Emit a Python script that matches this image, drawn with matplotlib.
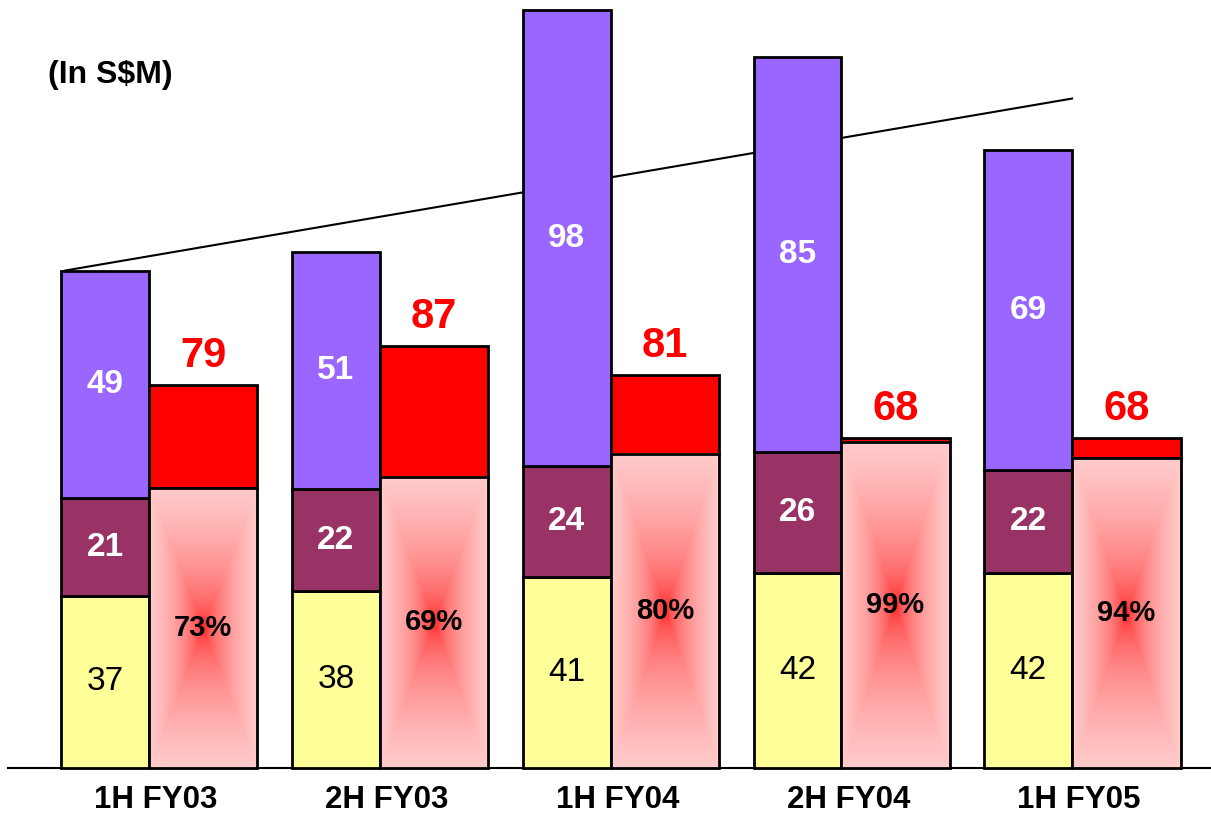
import numpy as np
import matplotlib.pyplot as plt
from matplotlib.colors import to_rgb

plt.rcParams["font.family"] = ["Liberation Sans", "DejaVu Sans"]

periods = ["1H FY03", "2H FY03", "1H FY04", "2H FY04", "1H FY05"]
yellow_vals = [37, 38, 41, 42, 42]
maroon_vals = [21, 22, 24, 26, 22]
purple_vals = [49, 51, 98, 85, 69]
red_totals = [79, 87, 81, 68, 68]
red_pcts = [73, 69, 80, 99, 94]
trend_vals = [107, 144]  # start / end of the growth line

YELLOW = "#FFFF99"
MAROON = "#993366"
PURPLE = "#9966FF"
RED = "#FF0000"
PINK = "#FFCCCC"

stack_w = 0.38
red_w = 0.47
edge_lw = 2.0


def gradient_image(ny=240, nx=80):
    # rectangular "from centre" fill: red in the middle, pink at the edges
    yy, xx = np.mgrid[0:ny, 0:nx]
    u = np.abs(xx / (nx - 1) - 0.5) * 2
    v = np.abs(yy / (ny - 1) - 0.5) * 2
    d = np.maximum(u, v) ** 0.4
    c0 = np.array(to_rgb(RED))
    c1 = np.array(to_rgb(PINK))
    return c0 + (c1 - c0) * d[..., None]


fig = plt.figure(figsize=(12.11, 8.13), dpi=100)
ax = fig.add_axes([0, 0, 1, 1])
ax2 = ax.twinx()

x = np.arange(len(periods))
ax.set_xlim(-0.6457, 4.602)
ax.set_ylim(-9.68, 165.2)
ax2.set_ylim(-9.28, 158.4)
for a in (ax, ax2):
    a.axis("off")

# stacked bars sit just left of each category point
yb = np.array(yellow_vals)
mb = np.array(maroon_vals)
pb = np.array(purple_vals)
ax.bar(x, yb, width=-stack_w, align="edge", color=YELLOW,
       edgecolor="black", linewidth=edge_lw, zorder=3)
ax.bar(x, mb, width=-stack_w, bottom=yb, align="edge", color=MAROON,
       edgecolor="black", linewidth=edge_lw, zorder=3)
ax.bar(x, pb, width=-stack_w, bottom=yb + mb, align="edge", color=PURPLE,
       edgecolor="black", linewidth=edge_lw, zorder=3)

for xi, y0, m0, p0 in zip(x, yb, mb, pb):
    cx = xi - stack_w / 2
    ax.text(cx, y0 / 2, f"{y0}", ha="center", va="center",
            fontsize=24, color="black", zorder=5)
    ax.text(cx, y0 + m0 / 2, f"{m0}", ha="center", va="center",
            fontsize=24, fontweight="bold", color="white", zorder=5)
    ax.text(cx, y0 + m0 + p0 / 2, f"{p0}", ha="center", va="center",
            fontsize=24, fontweight="bold", color="white", zorder=5)

# red bars with gradient lower part
grad = gradient_image()
for xi, tot, pct in zip(x, red_totals, red_pcts):
    low = tot * pct / 100
    ax2.bar(xi, tot - low, width=red_w, bottom=low, align="edge",
            color=RED, edgecolor="black", linewidth=edge_lw, zorder=3)
    ax2.imshow(grad, extent=(xi, xi + red_w, 0, low), aspect="auto",
               interpolation="bilinear", zorder=3)
    ax2.bar(xi, low, width=red_w, align="edge", color="none",
            edgecolor="black", linewidth=edge_lw, zorder=4)
    ax2.text(xi + red_w / 2, low / 2, f"{pct}%", ha="center", va="center",
             fontsize=21, fontweight="bold", color="black", zorder=5)
    ax2.annotate(f"{tot}", (xi + red_w / 2, tot), xytext=(0, 21),
                 textcoords="offset points", ha="center", va="center",
                 fontsize=30, fontweight="bold", color=RED, zorder=5)

ax2.set_xlim(ax.get_xlim())

# growth line over the stacks
ax.plot([x[0] - 0.364, x[-1]], trend_vals, color="black", lw=1.5, zorder=2)

# baseline and category labels
ax.axhline(0, xmin=8 / 1211, xmax=1, color="black", lw=1.5, zorder=2)
for xi, lab in zip(x, periods):
    ax.text(xi + 0.03, -6.9, lab, ha="center", va="center",
            fontsize=22.5, fontweight="bold", color="black")

fig.text(48 / 1211, 1 - 75 / 813, "(In S$M)", ha="left", va="center",
         fontsize=23, fontweight="bold", color="black")

fig.savefig("out.png", dpi=100)
